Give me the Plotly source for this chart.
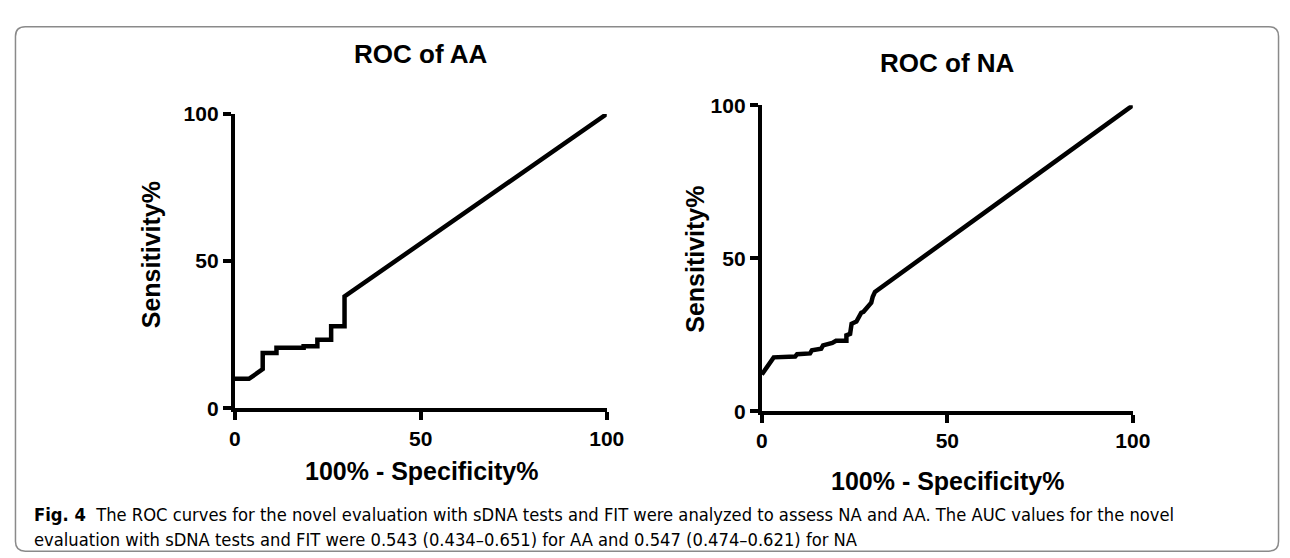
import plotly.graph_objects as go

# ---------------- data ----------------
aa_fpr = [0, 3.8, 7.5, 7.5, 11.2, 11.2, 18.5, 18.5, 22.2, 22.2, 25.9, 25.9, 29.5, 29.5, 100]
aa_tpr = [10.0, 10.0, 13.3, 18.8, 18.8, 20.6, 20.6, 21.1, 21.1, 23.3, 23.3, 27.9, 27.9, 38.0, 100]

na_fpr = [0, 2.5, 3.2, 9.0, 9.5, 13.0, 13.5, 16.0, 16.5, 19.0, 20.0, 22.8, 22.8, 23.8, 24.2,
          25.5, 26.8, 27.4, 28.6, 29.5, 29.9, 30.5, 100]
na_tpr = [12.0, 16.5, 17.6, 17.9, 18.6, 18.9, 19.9, 20.4, 21.5, 22.3, 23.0, 23.0, 24.8, 25.3, 28.6,
          29.3, 32.2, 32.5, 34.3, 35.5, 37.4, 39.0, 100]

tick_vals = [0, 50, 100]
tick_text = ["0", "50", "100"]

titles = ["ROC of AA", "ROC of NA"]
x_title = "100% - Specificity%"
y_title = "Sensitivity%"
caption_bold = "Fig. 4"
caption_line1 = ("The ROC curves for the novel evaluation with sDNA tests and FIT were analyzed to assess "
                 "NA and AA. The AUC values for the novel")
caption_line2 = "evaluation with sDNA tests and FIT were 0.543 (0.434–0.651) for AA and 0.547 (0.474–0.621) for NA"

# ---------------- layout helpers ----------------
W, H = 1290, 558


def px(x):
    return x / W


def py(y):
    return 1 - y / H


FONT = "Liberation Sans, Arial, Helvetica, sans-serif"
CAP_FONT = "Liberation Sans Narrow, DejaVu Sans Condensed, Roboto Condensed, Liberation Sans, sans-serif"

fig = go.Figure()
fig.add_trace(go.Scatter(x=aa_fpr, y=aa_tpr, mode="lines", line=dict(color="black", width=4.5),
                         xaxis="x", yaxis="y", cliponaxis=False, showlegend=False))
fig.add_trace(go.Scatter(x=na_fpr, y=na_tpr, mode="lines", line=dict(color="black", width=4.5),
                         xaxis="x2", yaxis="y2", cliponaxis=False, showlegend=False))

axis_common = dict(
    range=[0, 100], showline=True, linecolor="black", linewidth=4,
    ticks="outside", ticklen=8, tickwidth=4, tickcolor="black",
    tickvals=tick_vals, ticktext=tick_text, showgrid=False, zeroline=False,
    tickfont=dict(family=FONT, size=21, color="black", weight="bold"),
    fixedrange=True,
)

fig.update_layout(
    width=W, height=H,
    margin=dict(l=0, r=0, t=0, b=0),
    paper_bgcolor="white", plot_bgcolor="white",
    xaxis=dict(domain=[px(225), px(604)], anchor="y", **axis_common),
    yaxis=dict(domain=[py(405), py(98)], anchor="x", **axis_common),
    xaxis2=dict(domain=[px(762), px(1140)], anchor="y2", **axis_common),
    yaxis2=dict(domain=[py(408), py(89)], anchor="x2", **axis_common),
)

ann = []


def add_text(text, x, y, size, angle=0, xanchor="center", family=FONT, weight="bold"):
    ann.append(dict(text=text, x=px(x), y=py(y), xref="paper", yref="paper",
                    showarrow=False, xanchor=xanchor, yanchor="middle", textangle=angle,
                    font=dict(family=family, size=size, color="black", weight=weight)))


# chart titles
add_text(titles[0], 415, 35, 26)
add_text(titles[1], 951, 45, 26)
# axis titles
add_text(x_title, 415, 470, 25)
add_text(x_title, 951, 481, 25)
add_text(y_title, 140, 245, 25, angle=-90)
add_text(y_title, 694, 250, 25, angle=-90)

# caption
add_text("<b>" + caption_bold + "</b>  " + caption_line1, 18, 516, 18.2, xanchor="left",
         family=CAP_FONT, weight="normal")
add_text(caption_line2, 18, 542, 18.2, xanchor="left", family=CAP_FONT, weight="normal")

fig.update_layout(annotations=ann)

# rounded border frame
x0, y0, x1, y1, r = 1.5, 7, 1288.5, 554, 10
path = (f"M {px(x0 + r)},{py(y0)} L {px(x1 - r)},{py(y0)} Q {px(x1)},{py(y0)} {px(x1)},{py(y0 + r)} "
        f"L {px(x1)},{py(y1 - r)} Q {px(x1)},{py(y1)} {px(x1 - r)},{py(y1)} "
        f"L {px(x0 + r)},{py(y1)} Q {px(x0)},{py(y1)} {px(x0)},{py(y1 - r)} "
        f"L {px(x0)},{py(y0 + r)} Q {px(x0)},{py(y0)} {px(x0 + r)},{py(y0)} Z")
fig.add_shape(type="path", path=path, xref="paper", yref="paper",
              line=dict(color="#8a8a8a", width=1.5))

fig.write_html("out.html")
